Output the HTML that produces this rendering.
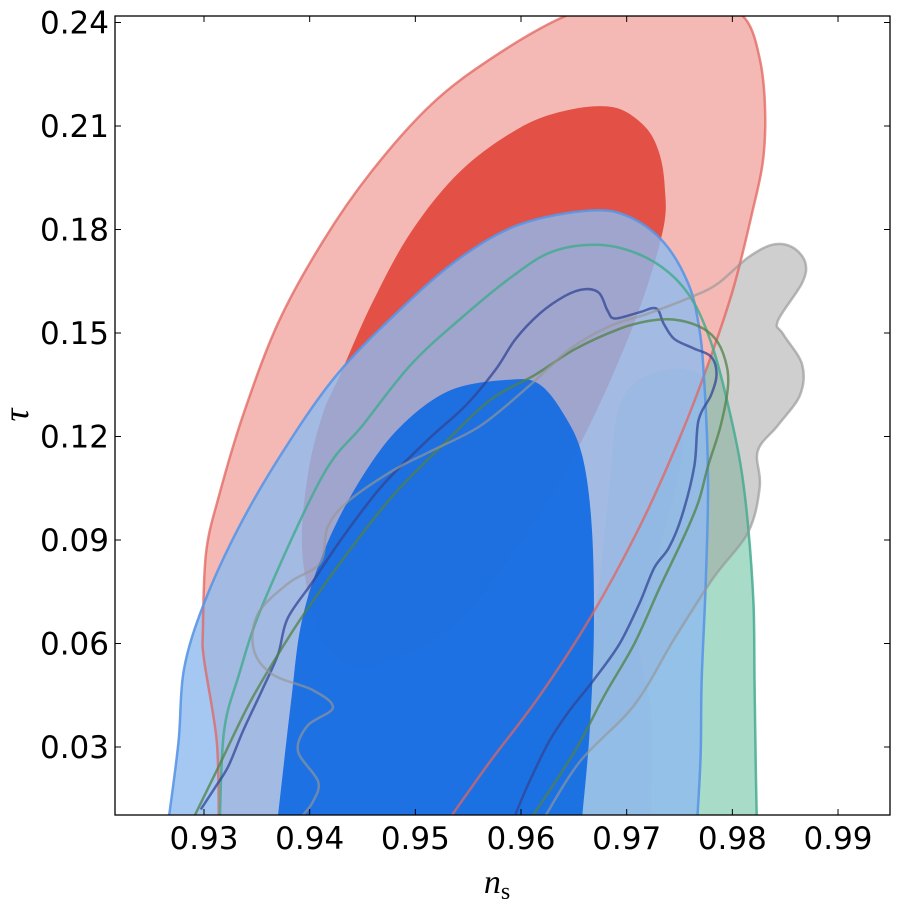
<!DOCTYPE html>
<html><head><meta charset="utf-8"><style>
html,body{margin:0;padding:0;background:#fff;}
svg{display:block;font-family:"DejaVu Sans","Liberation Sans",sans-serif;}
</style></head><body>
<svg id="chart" width="898" height="911" viewBox="0 0 898 911" xmlns="http://www.w3.org/2000/svg">
<defs><clipPath id="clip"><rect x="115" y="16" width="775" height="799"/></clipPath></defs>
<g id="plot" clip-path="url(#clip)"></g>
<rect x="115" y="16" width="775" height="799" fill="none" stroke="#000" stroke-width="1.3"/>
<g id="axes"></g>
<text x="497" y="893" font-family="Liberation Serif,serif" font-style="italic" font-size="34" text-anchor="middle">n<tspan font-style="normal" font-size="24" dy="6">s</tspan></text>
<text transform="translate(28,415) rotate(-90)" font-family="Liberation Serif,serif" font-style="italic" font-size="36" text-anchor="middle">τ</text>
</svg>
<script>
const xTicks=[0.93,0.94,0.95,0.96,0.97,0.98,0.99];
const xTickLabels=["0.93","0.94","0.95","0.96","0.97","0.98","0.99"];
const yTicks=[0.03,0.06,0.09,0.12,0.15,0.18,0.21,0.24];
const yTickLabels=["0.03","0.06","0.09","0.12","0.15","0.18","0.21","0.24"];
const greenOuter=[[.9315,.01],[.9319,.0347],[.9333,.0509],[.9356,.0716],[.9412,.1085],[.945,.1232],[.9496,.1409],[.9543,.1542],[.959,.166],[.9628,.1734],[.967,.1756],[.9707,.1734],[.974,.1675],[.9764,.1586],[.9782,.1453],[.9796,.1291],[.9808,.1114],[.9815,.0937],[.982,.0716],[.9821,.0495],[.9822,.0273],[.9823,.01]];
const grayOuter=[[.9623,.01],[.9656,.0259],[.9707,.0421],[.9745,.0613],[.9782,.079],[.9815,.0923],[.9826,.1055],[.9824,.1158],[.9843,.1232],[.9864,.132],[.9866,.1409],[.9848,.1497],[.9843,.1535],[.9866,.1645],[.9869,.1704],[.9857,.1748],[.9838,.1756],[.9815,.1719],[.9787,.1645],[.9764,.1608],[.9721,.1557],[.9684,.152],[.9646,.1453],[.9609,.135],[.9562,.1232],[.9515,.1158],[.9478,.11],[.9436,.1011],[.9417,.0937],[.941,.0834],[.938,.0775],[.9351,.0686],[.9347,.0583],[.9365,.051],[.9403,.0465],[.9422,.0414],[.9398,.0362],[.9389,.0288],[.9408,.02],[.9403,.0141],[.9393,.01]];
const grayInner=[[.9658,.01],[.9665,.05],[.9675,.08],[.9685,.11],[.969,.125],[.9705,.135],[.974,.1395],[.977,.138],[.9773,.132],[.9755,.125],[.975,.11],[.9725,.08],[.9712,.06],[.9723,.04],[.9723,.01]];
const redOuter=[[.9314,.01],[.9312,.0318],[.93,.0554],[.9299,.0642],[.9302,.0864],[.9314,.1026],[.9337,.1262],[.937,.1528],[.9412,.1763],[.9459,.197],[.9515,.2162],[.9571,.2294],[.9637,.2412],[.9700,.2480],[.9780,.2460],[.9812,.2412],[.9826,.2294],[.9831,.2147],[.9829,.2],[.9819,.1852],[.9801,.163],[.9777,.1409],[.9749,.1188],[.9712,.0937],[.9665,.0672],[.9618,.045],[.9571,.0259],[.9534,.01]];
const redInner=[[.9429,.138],[.9459,.1586],[.9496,.1793],[.9543,.197],[.9599,.2095],[.9646,.2147],[.9688,.2154],[.9716,.2102],[.973,.2029],[.9736,.1925],[.9734,.1793],[.9707,.1528],[.966,.1203],[.9609,.0937],[.9543,.0672],[.9478,.0554],[.9436,.0539],[.9408,.0642],[.9393,.0864],[.9398,.1085],[.9412,.1262]];
const blueOuter=[[.9267,.01],[.9276,.0318],[.9281,.0524],[.93,.0716],[.9333,.0937],[.9375,.1158],[.9426,.138],[.9487,.1572],[.9543,.1719],[.9599,.1815],[.9665,.1855],[.9702,.1837],[.9735,.1763],[.9758,.1645],[.9768,.1527],[.9773,.138],[.9777,.1085],[.9775,.079],[.9771,.0495],[.977,.0273],[.9767,.01]];
const blueInner=[[.937,.01],[.9382,.0421],[.9393,.0672],[.9417,.0893],[.945,.1085],[.9487,.1232],[.9534,.1335],[.9591,.1365],[.9618,.135],[.9641,.1262],[.9658,.1144],[.9667,.0937],[.9669,.0642],[.9665,.0347],[.9658,.01]];
const navyLine=[[.9297,.0119],[.9311,.0185],[.9323,.0244],[.9337,.0347],[.9355,.0465],[.937,.0568],[.9379,.0672],[.9402,.0775],[.9431,.0907],[.9468,.1055],[.9511,.1188],[.9548,.1291],[.9576,.1394],[.9595,.1483],[.9618,.1557],[.9642,.1608],[.966,.1627],[.9674,.1616],[.9682,.1564],[.9689,.1542],[.9712,.156],[.9728,.1571],[.9735,.1527],[.9745,.1483],[.9763,.1456],[.978,.1431],[.9785,.138],[.978,.1321],[.9768,.1247],[.9764,.1114],[.9752,.0967],[.974,.0878],[.9726,.0819],[.9712,.0716],[.9693,.0598],[.9669,.0495],[.9646,.0406],[.9627,.0318],[.9608,.02],[.9594,.01]];
const oliveLine=[[.9291,.01],[.9314,.0244],[.9342,.0421],[.937,.0568],[.9398,.0701],[.9436,.0863],[.9478,.1026],[.9525,.1173],[.9571,.1306],[.9614,.138],[.9651,.1453],[.9693,.1512],[.9721,.1535],[.9744,.1539],[.9768,.152],[.9784,.1483],[.9793,.1424],[.9796,.135],[.9789,.1232],[.9777,.1114],[.9768,.1011],[.9754,.0908],[.9731,.076],[.9707,.0598],[.9679,.045],[.9651,.0288],[.9611,.01]];

const X0=204,XS=10567,Y0=747,YS=3450;
function sx(v){return X0+(v-0.93)*XS;}
function sy(v){return Y0-(v-0.03)*YS;}
const NS="http://www.w3.org/2000/svg";
function pathD(pts,mode){
  const closed=mode==='closed';
  const p=pts.map(d=>[sx(d[0]),sy(d[1])]);
  const n=p.length;let d="M"+p[0][0].toFixed(1)+","+p[0][1].toFixed(1);
  const get=i=>closed?p[(i+n)%n]:p[Math.max(0,Math.min(n-1,i))];
  const last=closed?n:n-1;
  for(let i=0;i<last;i++){
    const a=get(i-1),b=get(i),c=get(i+1),e=get(i+2);
    const c1=[b[0]+(c[0]-a[0])/6,b[1]+(c[1]-a[1])/6],c2=[c[0]-(e[0]-b[0])/6,c[1]-(e[1]-b[1])/6];
    d+="C"+c1[0].toFixed(1)+","+c1[1].toFixed(1)+" "+c2[0].toFixed(1)+","+c2[1].toFixed(1)+" "+c[0].toFixed(1)+","+c[1].toFixed(1);
  }
  if(closed)d+="Z";
  if(mode==='bottom'){
    d+="L"+p[n-1][0].toFixed(1)+",900L"+p[0][0].toFixed(1)+",900Z";
  }
  return d;
}
const plot=document.getElementById('plot');
function addPath(name,pts,mode,fill,stroke,sw){
  const el=document.createElementNS(NS,'path');
  el.setAttribute('d',pathD(pts,mode));
  el.setAttribute('fill',fill);
  el.setAttribute('stroke',stroke);
  el.setAttribute('stroke-width',sw);
  el.setAttribute('stroke-linejoin','round');
  
  
  plot.appendChild(el);
}
addPath('green-outer-fill',greenOuter,'bottom','#a8dcc9','none',0);
addPath('gray-outer-fill',grayOuter,'bottom','rgba(160,160,160,0.5)','none',0);
addPath('red-outer-fill',redOuter,'bottom','#f4b9b4','none',0);
addPath('red-inner-fill',redInner,'closed','#e35045','none',0);
addPath('gray-inner-fill',grayInner,'bottom','rgba(150,165,180,0.35)','none',0);
addPath('blue-outer-fill',blueOuter,'bottom','rgba(142,186,239,0.8)','none',0);
addPath('blue-inner-fill',blueInner,'bottom','rgba(15,105,225,0.9)','none',0);
addPath('red-outer-line',redOuter,'open','none','rgba(225,100,95,0.75)',2.5);
addPath('blue-outer-line',blueOuter,'open','none','rgba(90,150,230,0.9)',2.5);
addPath('teal-line',greenOuter,'open','none','rgba(70,170,145,0.85)',2.5);
addPath('navy-line',navyLine,'open','none','rgba(50,70,150,0.75)',2.5);
addPath('olive-line',oliveLine,'open','none','rgba(80,130,70,0.75)',2.5);
addPath('gray-line',grayOuter,'open','none','rgba(150,150,150,0.65)',2.5);

const axes=document.getElementById('axes');
xTicks.forEach((t,i)=>{
  const x=sx(t);
  [[815,809],[16,22]].forEach(([a,b],k)=>{
    const l=document.createElementNS(NS,'line');
    l.setAttribute('x1',x);l.setAttribute('x2',x);l.setAttribute('y1',a);l.setAttribute('y2',b);
    l.setAttribute('stroke','#000');l.setAttribute('stroke-width','1');
    
    
    axes.appendChild(l);
  });
  const tx=document.createElementNS(NS,'text');
  tx.setAttribute('x',x);tx.setAttribute('y',849);tx.setAttribute('font-size','31');tx.setAttribute('text-anchor','middle');
  tx.textContent=xTickLabels[i];
  
  
  axes.appendChild(tx);
});
yTicks.forEach((t,i)=>{
  const y=sy(t);
  [[115,121],[890,884]].forEach(([a,b],k)=>{
    const l=document.createElementNS(NS,'line');
    l.setAttribute('x1',a);l.setAttribute('x2',b);l.setAttribute('y1',y);l.setAttribute('y2',y);
    l.setAttribute('stroke','#000');l.setAttribute('stroke-width','1');
    
    
    axes.appendChild(l);
  });
  const tx=document.createElementNS(NS,'text');
  tx.setAttribute('x',109);tx.setAttribute('y',y+11);tx.setAttribute('font-size','31');tx.setAttribute('text-anchor','end');
  tx.textContent=yTickLabels[i];
  
  
  axes.appendChild(tx);
});
</script>
</body></html>
